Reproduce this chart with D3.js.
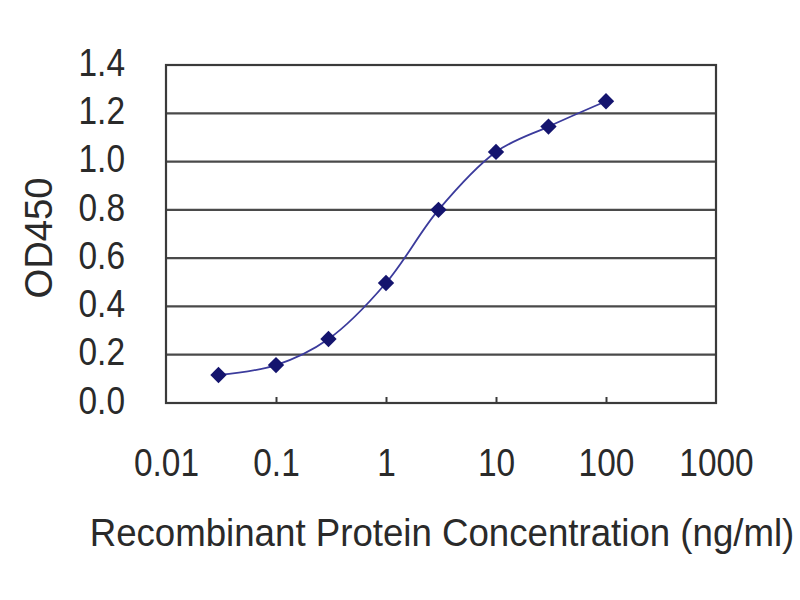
<!DOCTYPE html>
<html>
<head>
<meta charset="utf-8">
<script src="https://cdn.jsdelivr.net/npm/d3@7"></script>
<style>
  html, body { margin: 0; padding: 0; background: #fff; }
  svg { display: block; }
  text { font-family: "Liberation Sans", Arial, sans-serif; fill: #2a2a2a; }
</style>
</head>
<body>
<svg id="chart" width="800" height="600"></svg>
<script>
// Data
const concentrations = [0.03, 0.1, 0.3, 1, 3, 10, 30, 100];
const od450 = [0.116, 0.157, 0.265, 0.497, 0.80, 1.04, 1.145, 1.25];
const xTickValues = [0.01, 0.1, 1, 10, 100, 1000];
const xTickLabels = ["0.01", "0.1", "1", "10", "100", "1000"];
const yTickValues = [0.0, 0.2, 0.4, 0.6, 0.8, 1.0, 1.2, 1.4];
const xTitle = "Recombinant Protein Concentration (ng/ml)";
const yTitle = "OD450";

const svg = d3.select("#chart");
const plot = { left: 166, right: 716, top: 65, bottom: 403 };
const sx = 0.88; // horizontal squeeze of the reference's lettering

const x = d3.scaleLog().domain([0.01, 1000]).range([plot.left, plot.right]);
const y = d3.scaleLinear().domain([0, 1.4]).range([plot.bottom, plot.top]);

// Gridlines
svg.append("g")
  .selectAll("line")
  .data(yTickValues.filter(v => v > 0 && v < 1.4))
  .join("line")
  .attr("x1", plot.left).attr("x2", plot.right)
  .attr("y1", d => y(d)).attr("y2", d => y(d))
  .attr("stroke", "#4a4a4a").attr("stroke-width", 2.2);

// Frame
svg.append("rect")
  .attr("x", plot.left).attr("y", plot.top)
  .attr("width", plot.right - plot.left).attr("height", plot.bottom - plot.top)
  .attr("fill", "none").attr("stroke", "#3a3a3a").attr("stroke-width", 2.2);

// X axis (inside ticks, labels below)
const xAxis = d3.axisBottom(x)
  .tickValues(xTickValues)
  .tickFormat((d, i) => xTickLabels[i])
  .tickSizeInner(-6).tickSizeOuter(0).tickPadding(50);
const gx = svg.append("g").attr("transform", `translate(0,${plot.bottom})`).call(xAxis);
gx.select(".domain").remove();
gx.selectAll(".tick line").attr("stroke", "#3a3a3a").attr("stroke-width", 2);
gx.selectAll(".tick").filter(d => d === 0.01 || d === 1000).select("line").remove();
gx.selectAll("text")
  .attr("font-size", 38).attr("font-family", "Liberation Sans, Arial, sans-serif")
  .attr("fill", "#2a2a2a")
  .attr("y", 73).attr("dy", 0)
  .attr("transform", `scale(${sx},1)`);

// Y axis labels
const yAxis = d3.axisLeft(y)
  .tickValues(yTickValues)
  .tickFormat(d3.format(".1f"))
  .tickSize(0).tickPadding(40);
const gy = svg.append("g").attr("transform", `translate(${plot.left},0)`).call(yAxis);
gy.select(".domain").remove();
gy.selectAll("text")
  .attr("font-size", 38).attr("font-family", "Liberation Sans, Arial, sans-serif")
  .attr("fill", "#2a2a2a")
  .attr("x", -41 / sx).attr("y", -2)
  .attr("transform", `scale(${sx},1)`);

// Curve
const pts = concentrations.map((c, i) => [c, od450[i]]);
const line = d3.line()
  .x(d => x(d[0])).y(d => y(d[1]))
  .curve(d3.curveCatmullRom.alpha(0.5));
svg.append("path")
  .datum(pts)
  .attr("d", line)
  .attr("fill", "none")
  .attr("stroke", "#3b3b9c")
  .attr("stroke-width", 1.8);

// Markers
const diamond = d3.symbol().type(d3.symbolDiamond2).size(170);
svg.append("g")
  .selectAll("path")
  .data(pts)
  .join("path")
  .attr("transform", d => `translate(${x(d[0])},${y(d[1])})`)
  .attr("d", diamond)
  .attr("fill", "#14146e");

// Titles
svg.append("text")
  .attr("transform", "translate(442,546) scale(0.94,1)")
  .attr("text-anchor", "middle")
  .attr("font-size", 39)
  .text(xTitle);

svg.append("text")
  .attr("transform", "translate(52,238) rotate(-90) scale(0.98,1)")
  .attr("text-anchor", "middle")
  .attr("font-size", 39)
  .text(yTitle);
</script>
</body>
</html>
